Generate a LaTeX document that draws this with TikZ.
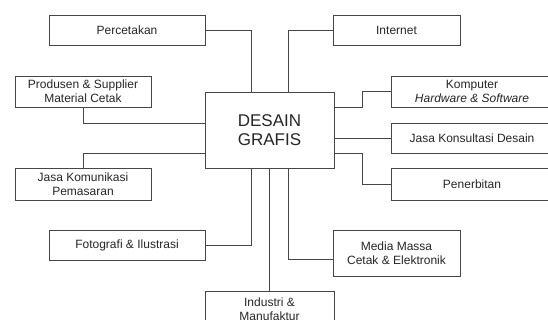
\documentclass[tikz,border=0pt]{standalone}
\usepackage{fontspec}
\setmainfont{Liberation Sans}
\definecolor{LineGray}{RGB}{70, 70, 70}
\usetikzlibrary{positioning}

\begin{document}
\begin{tikzpicture}[
    x=1pt, y=-1pt,
    every node/.style={font=\fontsize{12}{14}\selectfont, align=center, text=black!85},
    box/.style={draw=LineGray, line width=0.9pt, fill=white, inner sep=0pt},
    link/.style={draw=LineGray, line width=0.9pt}
]
\clip (0,0) rectangle (548,320);
\node[box, minimum width=129pt, minimum height=76pt, font=\fontsize{17}{19}\selectfont] (desain) at (269.5,130) {DESAIN\\GRAFIS};
\node[box, minimum width=156pt, minimum height=30pt] (perc) at (127,30) {Percetakan};
\node[box, minimum width=136pt, minimum height=31pt] (prod) at (83,91.5) {Produsen \& Supplier\\Material Cetak};
\node[box, minimum width=136pt, minimum height=32pt] (jasak) at (83,184) {Jasa Komunikasi\\Pemasaran};
\node[box, minimum width=156pt, minimum height=30pt] (foto) at (127,245) {Fotografi \& Ilustrasi};
\node[box, minimum width=129pt, minimum height=36pt, anchor=north] (indus) at (269.5,291) {Industri \&\\Manufaktur};
\node[box, minimum width=127pt, minimum height=30pt] (inet) at (396.5,30) {Internet};
\node[box, minimum width=162pt, minimum height=31pt] (komp) at (472,91.5) {Komputer\\\textit{Hardware \& Software}};
\node[box, minimum width=162pt, minimum height=30pt] (konsul) at (472,138) {Jasa Konsultasi Desain};
\node[box, minimum width=162pt, minimum height=32pt] (penerb) at (472,184) {Penerbitan};
\node[box, minimum width=127pt, minimum height=46pt] (media) at (396.5,253) {Media Massa\\Cetak \& Elektronik};
% left side
\draw[link] (perc.east) -| ([xshift=47pt]desain.north west);
\draw[link] (prod.south) |- ([yshift=7pt]desain.west);
\draw[link] (jasak.north) |- ([yshift=-23pt]desain.west);
\draw[link] (foto.east) -| ([xshift=47pt]desain.south west);
\draw[link] (desain.south) -- (indus.north);
% right side
\draw[link] (inet.west) -| ([xshift=-46pt]desain.north east);
\draw[link] ([yshift=23pt]desain.east) -- ++(28,0) |- (komp.west);
\draw[link] (konsul.west) -- (konsul.west -| desain.east);
\draw[link] ([yshift=-23pt]desain.east) -- ++(28,0) |- (penerb.west);
\draw[link] ([xshift=-46pt]desain.south east) |- ([yshift=-6pt]media.west);
\end{tikzpicture}
\end{document}
